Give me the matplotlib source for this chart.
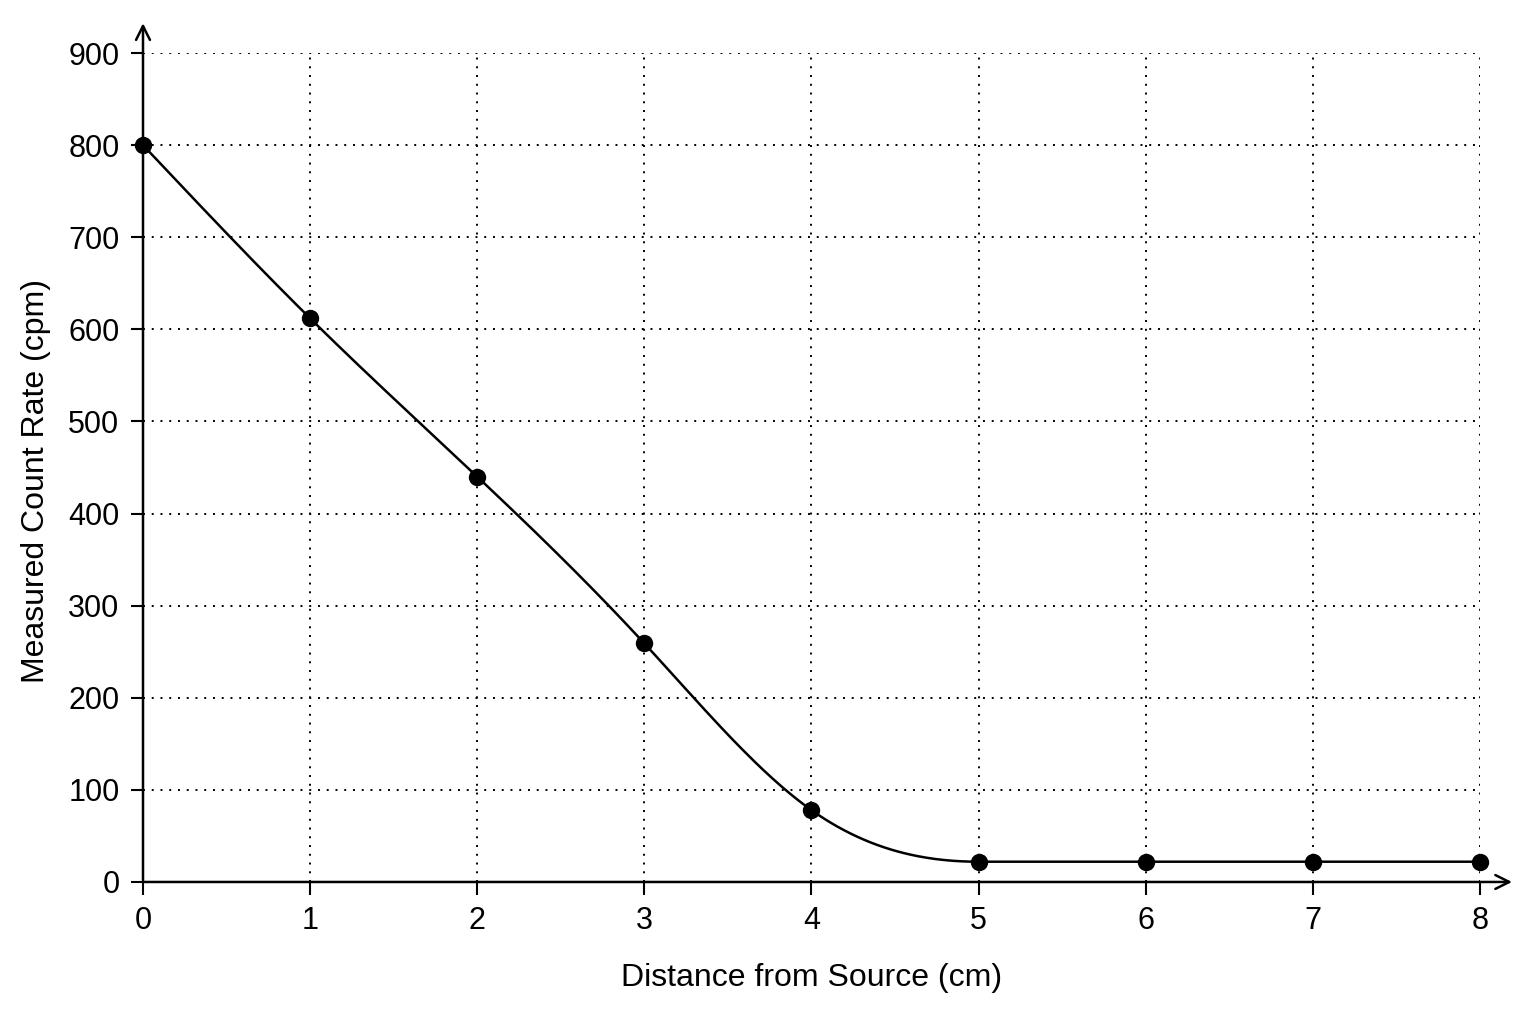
import numpy as np
import matplotlib
matplotlib.use('Agg')
import matplotlib.pyplot as plt

matplotlib.rcParams['font.family'] = ['Liberation Sans', 'DejaVu Sans']

# data
distance_cm = [0, 1, 2, 3, 4, 5, 6, 7, 8]
count_rate = [800, 612, 440, 259, 78, 22, 22, 22, 22]
x_ticks = [0, 1, 2, 3, 4, 5, 6, 7, 8]
y_ticks = [0, 100, 200, 300, 400, 500, 600, 700, 800, 900]


def smooth_curve(x, y, n=600):
    # cubic spline up to where the rate levels off (natural start, flat end),
    # then the flat background tail as straight line
    x = np.asarray(x, float)
    y = np.asarray(y, float)
    last = len(y) - 1
    while last > 1 and y[last - 1] == y[last]:
        last -= 1
    xs_, ys_ = x[:last + 1], y[:last + 1]
    k = len(xs_)
    h = np.diff(xs_)
    d = np.diff(ys_) / h
    A = np.zeros((k, k))
    b = np.zeros(k)
    A[0, 0] = 1.0
    for i in range(1, k - 1):
        A[i, i - 1] = h[i - 1]
        A[i, i] = 2 * (h[i - 1] + h[i])
        A[i, i + 1] = h[i]
        b[i] = 6 * (d[i] - d[i - 1])
    A[-1, -2] = h[-1]
    A[-1, -1] = 2 * h[-1]
    b[-1] = 6 * (0 - d[-1])
    M = np.linalg.solve(A, b)

    xx = np.linspace(x[0], x[-1], n)
    yy = np.empty_like(xx)
    for j, xv in enumerate(xx):
        if xv >= xs_[-1]:
            yy[j] = ys_[-1]
            continue
        i = min(np.searchsorted(xs_, xv, side='right') - 1, k - 2)
        a = xs_[i + 1] - xv
        c = xv - xs_[i]
        yy[j] = (M[i] * a**3 / (6 * h[i]) + M[i + 1] * c**3 / (6 * h[i])
                 + (ys_[i] / h[i] - M[i] * h[i] / 6) * a
                 + (ys_[i + 1] / h[i] - M[i + 1] * h[i] / 6) * c)
    return xx, yy


fig = plt.figure(figsize=(15.36, 10.24), dpi=100)
ax = fig.add_axes([0.0931, 0.1387, 0.8704, 0.8095])

cx, cy = smooth_curve(distance_cm, count_rate)
ax.plot(cx, cy, color='black', lw=1.8, zorder=3)
ax.plot(distance_cm, count_rate, 'o', color='black', ms=11.5, zorder=4, clip_on=False)

ax.set_xlim(0, 8)
ax.set_ylim(0, 900)
ax.set_xticks(x_ticks)
ax.set_yticks(y_ticks)
ax.tick_params(labelsize=22, length=9, width=1.5, direction='out', pad=8)

ax.grid(True, color='black', linestyle=(0, (1, 3.5)), linewidth=1.4)
for s in ax.spines.values():
    s.set_visible(False)

# axes with arrow heads
arrow = dict(arrowstyle='->', color='black', lw=1.8, mutation_scale=25, shrinkA=0, shrinkB=0)
ax.annotate('', xy=(1.024, 0), xytext=(0, 0), xycoords='axes fraction',
            textcoords='axes fraction', arrowprops=arrow, annotation_clip=False)
ax.annotate('', xy=(0, 1.036), xytext=(0, 0), xycoords='axes fraction',
            textcoords='axes fraction', arrowprops=arrow, annotation_clip=False)

ax.set_xlabel('Distance from Source (cm)', fontsize=23)
ax.set_ylabel('Measured Count Rate (cpm)', fontsize=23)
ax.xaxis.set_label_coords(0.5, -0.098)
ax.yaxis.set_label_coords(-0.069, 0.484)

fig.savefig('out.png', dpi=100)
